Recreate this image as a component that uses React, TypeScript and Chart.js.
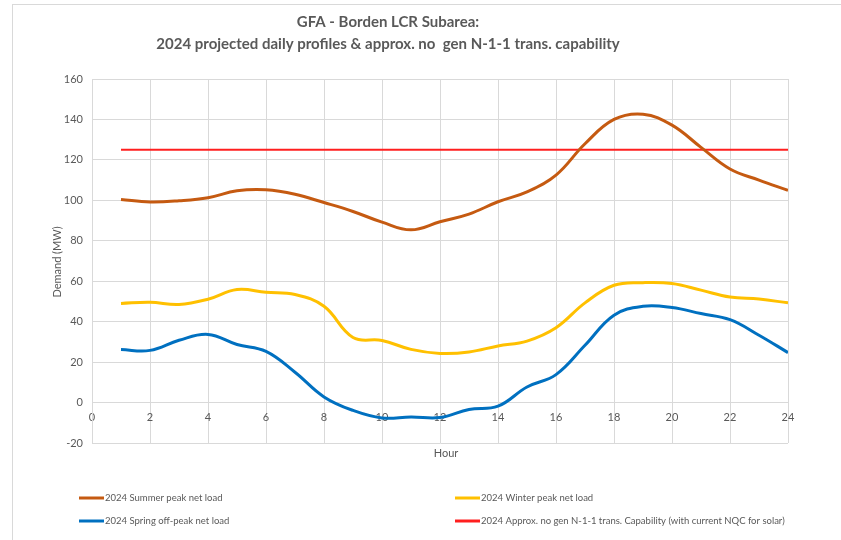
import React, { useEffect, useRef } from "react";
import { Chart, registerables } from "chart.js";

Chart.register(...registerables);

const titleLines = [
  "GFA - Borden LCR Subarea:",
  "2024 projected daily profiles & approx. no  gen N-1-1 trans. capability",
];
const xAxisTitle = "Hour";
const yAxisTitle = "Demand (MW)";

const hours = [1, 2, 3, 4, 5, 6, 7, 8, 9, 10, 11, 12, 13, 14, 15, 16, 17, 18, 19, 20, 21, 22, 23, 24];
const summerLoad = [100.4, 99.2, 99.8, 101.3, 104.7, 105.2, 103, 98.9, 94.5, 89.2, 85.4, 89.4, 93.2, 99.3, 104.2, 112.5, 128, 140, 142.6, 137.2, 126.2, 115.5, 110, 105];
const winterLoad = [49, 49.6, 48.5, 51.1, 55.9, 54.5, 53.4, 47.6, 32.2, 30.7, 26.3, 24.3, 25, 28, 30.4, 37, 49.3, 58, 59.3, 58.9, 55.6, 52.2, 51.2, 49.3];
const springLoad = [26.2, 25.8, 30.8, 33.7, 28.7, 25.3, 15, 2.8, -3.9, -7.6, -7.1, -7.4, -3.4, -1.8, 7.7, 13.8, 28.3, 43.2, 47.6, 47, 44, 41, 33.3, 24.7];
const capability = [125, 125, 125, 125, 125, 125, 125, 125, 125, 125, 125, 125, 125, 125, 125, 125, 125, 125, 125, 125, 125, 125, 125, 125];

const seriesLabels = [
  "2024 Summer peak net load",
  "2024 Winter peak net load",
  "2024 Spring off-peak net load",
  "2024 Approx. no gen N-1-1 trans. Capability (with current NQC for solar)",
];
const seriesColors = ["#C55A11", "#FFC000", "#0070C0", "#FF1F1F"];

const TEXT = "#595959";
const GRID = "#D9D9D9";
const FONT = "Lato, 'Open Sans', sans-serif";

const toPoints = (ys: number[]) => hours.map((h, i) => ({ x: h, y: ys[i] }));

const decorPlugin = {
  id: "decor",
  afterDraw(chart: any) {
    const ctx = chart.ctx;
    const area = chart.chartArea;
    ctx.save();
    // title
    ctx.fillStyle = TEXT;
    ctx.textAlign = "center";
    ctx.textBaseline = "middle";
    ctx.font = `bold 15px ${FONT}`;
    ctx.fillText(titleLines[0], 388, 22);
    ctx.fillText(titleLines[1], 388, 44);
    // axis titles
    ctx.font = `11px ${FONT}`;
    ctx.fillText(xAxisTitle, (area.left + area.right) / 2 + 6, area.bottom + 10);
    ctx.save();
    ctx.translate(57, 262);
    ctx.rotate(-Math.PI / 2);
    ctx.fillText(yAxisTitle, 0, 0);
    ctx.restore();
    // legend
    const pos = [
      [79, 498],
      [455, 498],
      [79, 521],
      [455, 521],
    ];
    ctx.textAlign = "left";
    ctx.font = `9.5px ${FONT}`;
    chart.data.datasets.forEach((ds: any, i: number) => {
      const [lx, ly] = pos[i];
      ctx.strokeStyle = ds.borderColor;
      ctx.lineWidth = 3;
      ctx.beginPath();
      ctx.moveTo(lx, ly);
      ctx.lineTo(lx + 25, ly);
      ctx.stroke();
      ctx.fillStyle = TEXT;
      ctx.fillText(ds.label, lx + 26, ly);
    });
    ctx.restore();
  },
};

export default function App() {
  const ref = useRef<HTMLCanvasElement>(null);
  useEffect(() => {
    if (!ref.current) return;
    const chart = new Chart(ref.current, {
      type: "line",
      data: {
        datasets: [
          { label: seriesLabels[0], data: toPoints(summerLoad), borderColor: seriesColors[0], borderWidth: 3 },
          { label: seriesLabels[1], data: toPoints(winterLoad), borderColor: seriesColors[1], borderWidth: 3 },
          { label: seriesLabels[2], data: toPoints(springLoad), borderColor: seriesColors[2], borderWidth: 3 },
          { label: seriesLabels[3], data: toPoints(capability), borderColor: seriesColors[3], borderWidth: 2 },
        ].map((d) => ({ ...d, pointRadius: 0, tension: 0.4, fill: false, backgroundColor: d.borderColor })),
      },
      options: {
        animation: false,
        responsive: false,
        layout: { padding: { left: 52, top: 79, right: 53, bottom: 97 } },
        plugins: { legend: { display: false }, title: { display: false }, tooltip: { enabled: false } },
        scales: {
          x: {
            type: "linear",
            position: { y: 0 } as any,
            min: 0,
            max: 24,
            grid: { color: GRID, drawTicks: false },
            border: { color: GRID },
            ticks: { stepSize: 2, padding: 8, color: TEXT, font: { size: 11, family: FONT } },
          },
          y: {
            min: -20,
            max: 160,
            afterFit: (s: any) => {
              s.width = 40;
            },
            grid: { color: GRID, drawTicks: false },
            border: { color: GRID },
            ticks: { stepSize: 20, padding: 9, color: TEXT, font: { size: 11, family: FONT } },
          },
        },
      },
      plugins: [decorPlugin],
    });
    return () => chart.destroy();
  }, []);
  return (
    <div style={{ position: "absolute", left: 0, top: 0, width: 841, height: 540, background: "#fff", overflow: "hidden" }}>
      <div
        style={{
          position: "absolute",
          left: 12,
          top: 4,
          right: -2,
          bottom: -2,
          borderLeft: "1px solid #D9D9D9",
          borderTop: "1px solid #D9D9D9",
        }}
      />
      <canvas ref={ref} width={841} height={540} style={{ position: "absolute", left: 0, top: 0 }} />
    </div>
  );
}
